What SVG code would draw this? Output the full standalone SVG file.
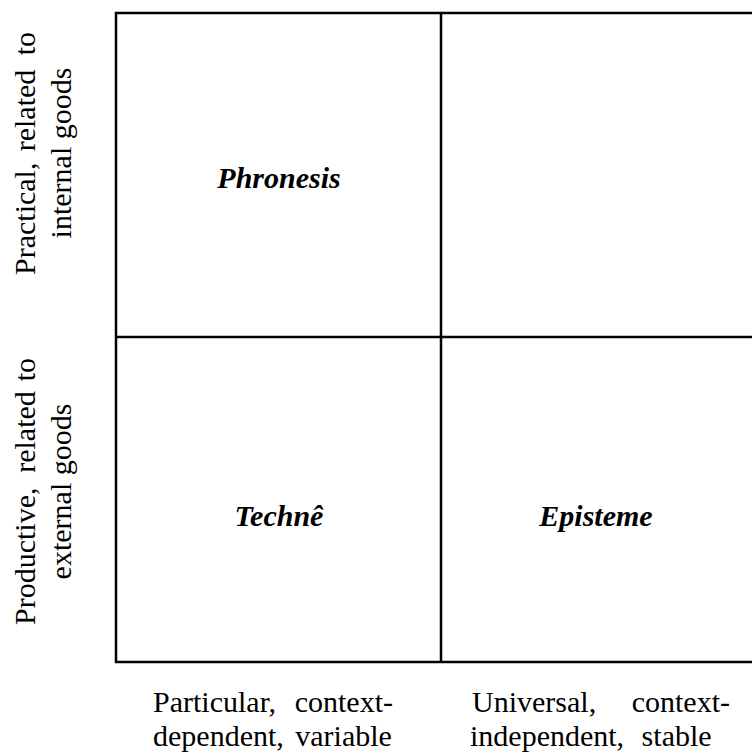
<svg xmlns="http://www.w3.org/2000/svg" width="752" height="754" viewBox="0 0 752 754">
<rect width="752" height="754" fill="#fff"/>
<g id="connectors" stroke="#000" stroke-width="2.5" fill="none">
<path d="M760,13 H116 V662 H760"/>
<line x1="441" y1="13" x2="441" y2="662"/>
<line x1="116" y1="337" x2="760" y2="337"/>
</g>
<g font-family="Liberation Serif, serif" font-size="30" fill="#000">
<g font-weight="bold" font-style="italic" text-anchor="middle">
<g id="cell-phronesis"><text x="279" y="188">Phronesis</text></g>
<g id="cell-techne"><text x="279" y="526">Technê</text></g>
<g id="cell-episteme"><text x="596" y="526">Episteme</text></g>
</g>
<g id="label-practical" transform="rotate(-90)">
<text x="-275" y="35">Practical,</text>
<text x="-110.5" y="35" text-anchor="middle">related</text>
<text x="-32" y="35" text-anchor="end">to</text>
<text x="-153" y="71" text-anchor="middle">internal goods</text>
</g>
<g id="label-productive" transform="rotate(-90)">
<text x="-625" y="35">Productive,</text>
<text x="-432" y="35" text-anchor="middle">related</text>
<text x="-358" y="35" text-anchor="end">to</text>
<text x="-491.5" y="71" text-anchor="middle">external goods</text>
</g>
<g id="label-particular">
<text x="153" y="712">Particular,</text>
<text x="393" y="712" text-anchor="end">context-</text>
<text x="153" y="746" word-spacing="4">dependent, variable</text>
</g>
<g id="label-universal">
<text x="472" y="712">Universal,</text>
<text x="730" y="712" text-anchor="end">context-</text>
<text x="470" y="746" word-spacing="10">independent, stable</text>
</g>
</g>
</svg>
